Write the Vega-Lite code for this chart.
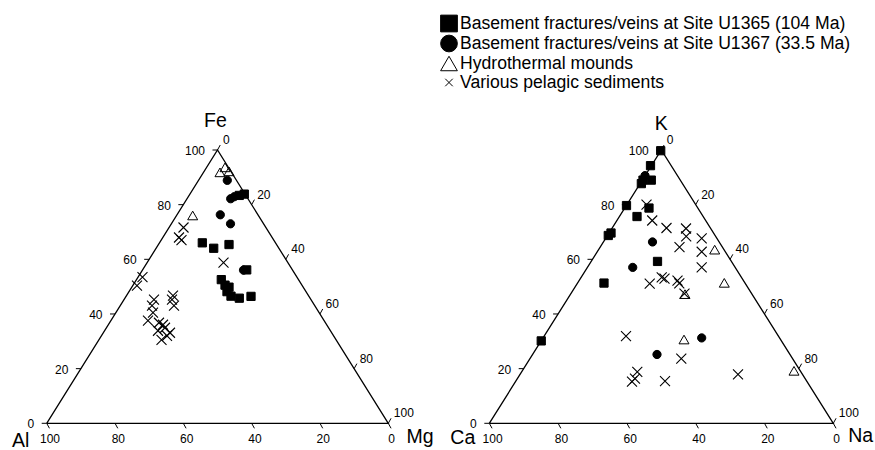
{
  "$schema": "https://vega.github.io/schema/vega-lite/v6.json",
  "width": 875,
  "height": 450,
  "padding": 0,
  "autosize": {"type": "none"},
  "background": "white",
  "config": {"view": {"stroke": null}, "font": "Liberation Sans",
    "legend": {"title": null, "orient": "none", "legendX": 440, "legendY": 14.5, "padding": 0, "labelFontSize": 17.6, "labelFont": "Liberation Sans", "labelColor": "black", "symbolSize": 280, "symbolStrokeColor": "black", "symbolStrokeWidth": 1, "labelOffset": 2, "rowPadding": -4.5, "labelLimit": 0}},
  "datasets": {
    "frame": [{"i": 0, "x": 0, "y": 0}, {"i": 1, "x": 100, "y": 0}, {"i": 2, "x": 50, "y": 100}, {"i": 3, "x": 0, "y": 0}],
    "tl": [{"x": 0, "y": 0, "t": "0"}, {"x": 10, "y": 20, "t": "20"}, {"x": 20, "y": 40, "t": "40"}, {"x": 30, "y": 60, "t": "60"}, {"x": 40, "y": 80, "t": "80"}, {"x": 50, "y": 100, "t": "100"}],
    "tb": [{"x": 100, "y": 0, "t": "0"}, {"x": 80, "y": 0, "t": "20"}, {"x": 60, "y": 0, "t": "40"}, {"x": 40, "y": 0, "t": "60"}, {"x": 20, "y": 0, "t": "80"}, {"x": 0, "y": 0, "t": "100"}],
    "tr": [{"x": 50, "y": 100, "t": "0"}, {"x": 60, "y": 80, "t": "20"}, {"x": 70, "y": 60, "t": "40"}, {"x": 80, "y": 40, "t": "60"}, {"x": 90, "y": 20, "t": "80"}, {"x": 100, "y": 0, "t": "100"}],
    "pl": [
      {"g": "Various pelagic sediments", "x": 51.76, "y": 58.8},
      {"g": "Various pelagic sediments", "x": 40.05, "y": 71.64},
      {"g": "Various pelagic sediments", "x": 38.73, "y": 67.98},
      {"g": "Various pelagic sediments", "x": 39.46, "y": 67.06},
      {"g": "Various pelagic sediments", "x": 28.04, "y": 53.49},
      {"g": "Various pelagic sediments", "x": 26.43, "y": 50.37},
      {"g": "Various pelagic sediments", "x": 31.41, "y": 45.23},
      {"g": "Various pelagic sediments", "x": 30.83, "y": 43.03},
      {"g": "Various pelagic sediments", "x": 36.97, "y": 46.7},
      {"g": "Various pelagic sediments", "x": 36.68, "y": 45.23},
      {"g": "Various pelagic sediments", "x": 37.27, "y": 43.03},
      {"g": "Various pelagic sediments", "x": 29.65, "y": 37.53},
      {"g": "Various pelagic sediments", "x": 31.12, "y": 40.46},
      {"g": "Various pelagic sediments", "x": 32.87, "y": 36.79},
      {"g": "Various pelagic sediments", "x": 34.05, "y": 36.06},
      {"g": "Various pelagic sediments", "x": 34.63, "y": 34.96},
      {"g": "Various pelagic sediments", "x": 33.61, "y": 30.56},
      {"g": "Various pelagic sediments", "x": 36.09, "y": 33.13},
      {"g": "Various pelagic sediments", "x": 35.22, "y": 32.03},
      {"g": "Various pelagic sediments", "x": 32.58, "y": 33.86},
      {"g": "Hydrothermal mounds", "x": 50.73, "y": 91.82},
      {"g": "Hydrothermal mounds", "x": 52.2, "y": 93.65},
      {"g": "Hydrothermal mounds", "x": 53.37, "y": 92.19},
      {"g": "Hydrothermal mounds", "x": 42.74, "y": 76.05},
      {"g": "Basement fractures/veins at Site U1365 (104 Ma)", "x": 56.38, "y": 83.38},
      {"g": "Basement fractures/veins at Site U1365 (104 Ma)", "x": 57.85, "y": 83.86},
      {"g": "Basement fractures/veins at Site U1365 (104 Ma)", "x": 45.55, "y": 66.03},
      {"g": "Basement fractures/veins at Site U1365 (104 Ma)", "x": 48.89, "y": 64.05},
      {"g": "Basement fractures/veins at Site U1365 (104 Ma)", "x": 53.37, "y": 65.41},
      {"g": "Basement fractures/veins at Site U1365 (104 Ma)", "x": 58.55, "y": 56.13},
      {"g": "Basement fractures/veins at Site U1365 (104 Ma)", "x": 51.11, "y": 52.57},
      {"g": "Basement fractures/veins at Site U1365 (104 Ma)", "x": 52.2, "y": 50.55},
      {"g": "Basement fractures/veins at Site U1365 (104 Ma)", "x": 53.37, "y": 49.82},
      {"g": "Basement fractures/veins at Site U1365 (104 Ma)", "x": 52.78, "y": 48.17},
      {"g": "Basement fractures/veins at Site U1365 (104 Ma)", "x": 53.95, "y": 46.52},
      {"g": "Basement fractures/veins at Site U1365 (104 Ma)", "x": 56.38, "y": 45.78},
      {"g": "Basement fractures/veins at Site U1365 (104 Ma)", "x": 59.81, "y": 46.44},
      {"g": "Basement fractures/veins at Site U1367 (33.5 Ma)", "x": 52.87, "y": 88.89},
      {"g": "Basement fractures/veins at Site U1367 (33.5 Ma)", "x": 53.86, "y": 82.17},
      {"g": "Basement fractures/veins at Site U1367 (33.5 Ma)", "x": 54.92, "y": 82.91},
      {"g": "Basement fractures/veins at Site U1367 (33.5 Ma)", "x": 50.82, "y": 76.3},
      {"g": "Basement fractures/veins at Site U1367 (33.5 Ma)", "x": 53.81, "y": 73.0},
      {"g": "Basement fractures/veins at Site U1367 (33.5 Ma)", "x": 57.61, "y": 56.05}
    ],
    "pr": [
      {"g": "Various pelagic sediments", "x": 45.7, "y": 80.04},
      {"g": "Various pelagic sediments", "x": 47.36, "y": 74.2},
      {"g": "Various pelagic sediments", "x": 51.51, "y": 71.46},
      {"g": "Various pelagic sediments", "x": 57.18, "y": 71.28},
      {"g": "Various pelagic sediments", "x": 57.24, "y": 68.36},
      {"g": "Various pelagic sediments", "x": 55.29, "y": 64.45},
      {"g": "Various pelagic sediments", "x": 61.74, "y": 67.7},
      {"g": "Various pelagic sediments", "x": 61.74, "y": 62.77},
      {"g": "Various pelagic sediments", "x": 61.74, "y": 57.04},
      {"g": "Various pelagic sediments", "x": 46.63, "y": 51.09},
      {"g": "Various pelagic sediments", "x": 50.12, "y": 53.39},
      {"g": "Various pelagic sediments", "x": 50.93, "y": 52.92},
      {"g": "Various pelagic sediments", "x": 54.71, "y": 52.19},
      {"g": "Various pelagic sediments", "x": 55.23, "y": 51.2},
      {"g": "Various pelagic sediments", "x": 56.74, "y": 47.44},
      {"g": "Various pelagic sediments", "x": 39.74, "y": 31.86},
      {"g": "Various pelagic sediments", "x": 55.81, "y": 23.65},
      {"g": "Various pelagic sediments", "x": 43.02, "y": 18.83},
      {"g": "Various pelagic sediments", "x": 42.35, "y": 16.35},
      {"g": "Various pelagic sediments", "x": 41.48, "y": 15.26},
      {"g": "Various pelagic sediments", "x": 51.08, "y": 15.44},
      {"g": "Various pelagic sediments", "x": 72.3, "y": 17.88},
      {"g": "Hydrothermal mounds", "x": 65.52, "y": 63.54},
      {"g": "Hydrothermal mounds", "x": 68.31, "y": 51.39},
      {"g": "Hydrothermal mounds", "x": 56.89, "y": 47.26},
      {"g": "Hydrothermal mounds", "x": 56.6, "y": 30.66},
      {"g": "Hydrothermal mounds", "x": 88.58, "y": 19.2},
      {"g": "Basement fractures/veins at Site U1365 (104 Ma)", "x": 49.83, "y": 99.74},
      {"g": "Basement fractures/veins at Site U1365 (104 Ma)", "x": 46.86, "y": 94.27},
      {"g": "Basement fractures/veins at Site U1365 (104 Ma)", "x": 47.09, "y": 88.98},
      {"g": "Basement fractures/veins at Site U1365 (104 Ma)", "x": 44.68, "y": 88.98},
      {"g": "Basement fractures/veins at Site U1365 (104 Ma)", "x": 44.2, "y": 87.7},
      {"g": "Basement fractures/veins at Site U1365 (104 Ma)", "x": 39.88, "y": 79.67},
      {"g": "Basement fractures/veins at Site U1365 (104 Ma)", "x": 46.42, "y": 78.76},
      {"g": "Basement fractures/veins at Site U1365 (104 Ma)", "x": 42.94, "y": 75.66},
      {"g": "Basement fractures/veins at Site U1365 (104 Ma)", "x": 34.59, "y": 68.72},
      {"g": "Basement fractures/veins at Site U1365 (104 Ma)", "x": 35.38, "y": 69.63},
      {"g": "Basement fractures/veins at Site U1365 (104 Ma)", "x": 48.9, "y": 59.23},
      {"g": "Basement fractures/veins at Site U1365 (104 Ma)", "x": 33.34, "y": 51.31},
      {"g": "Basement fractures/veins at Site U1365 (104 Ma)", "x": 15.1, "y": 30.15},
      {"g": "Basement fractures/veins at Site U1367 (33.5 Ma)", "x": 45.26, "y": 90.62},
      {"g": "Basement fractures/veins at Site U1367 (33.5 Ma)", "x": 47.44, "y": 66.35},
      {"g": "Basement fractures/veins at Site U1367 (33.5 Ma)", "x": 41.69, "y": 57.04},
      {"g": "Basement fractures/veins at Site U1367 (33.5 Ma)", "x": 48.75, "y": 25.18},
      {"g": "Basement fractures/veins at Site U1367 (33.5 Ma)", "x": 61.74, "y": 31.24}
    ]
  },
  "encoding": {
    "y": {"field": "y", "type": "quantitative", "scale": {"domain": [-9.769, 154.885], "nice": false, "zero": false}, "axis": null}
  },
  "resolve": {"scale": {"x": "independent"}},
  "layer": [
    {
      "encoding": {"x": {"field": "x", "type": "quantitative", "scale": {"domain": [-13.671, 242.477], "nice": false, "zero": false}, "axis": null}},
      "layer": [
        {"data": {"name": "frame"}, "mark": {"type": "line", "color": "black", "strokeWidth": 1.3}, "encoding": {"order": {"field": "i", "type": "quantitative"}}},
        {"data": {"name": "tl"}, "mark": {"type": "point", "shape": "M0,0L-1,0", "size": 100, "color": "black", "filled": false, "strokeWidth": 1, "opacity": 1}},
        {"data": {"name": "tb"}, "mark": {"type": "point", "shape": "M0,0L0.55,1", "size": 100, "color": "black", "filled": false, "strokeWidth": 1, "opacity": 1}},
        {"data": {"name": "tr"}, "mark": {"type": "point", "shape": "M0,0L0.55,-1", "size": 100, "color": "black", "filled": false, "strokeWidth": 1, "opacity": 1}},
        {"data": {"name": "tl"}, "mark": {"type": "text", "align": "right", "baseline": "middle", "dx": -12.5, "dy": 1, "fontSize": 12, "color": "black"}, "encoding": {"text": {"field": "t"}}},
        {"data": {"name": "tb"}, "mark": {"type": "text", "align": "center", "baseline": "middle", "dx": 3.3, "dy": 15.7, "fontSize": 12, "color": "black"}, "encoding": {"text": {"field": "t"}}},
        {"data": {"name": "tr"}, "mark": {"type": "text", "align": "left", "baseline": "middle", "dx": 5.5, "dy": -10, "fontSize": 12, "color": "black"}, "encoding": {"text": {"field": "t"}}},
        {"data": {"values": [{"x": 50, "y": 100, "t": "Fe"}]}, "mark": {"type": "text", "align": "center", "baseline": "middle", "dx": -2, "dy": -29, "fontSize": 19.5, "color": "black"}, "encoding": {"text": {"field": "t"}}},
        {"data": {"values": [{"x": 0, "y": 0, "t": "Al"}]}, "mark": {"type": "text", "align": "center", "baseline": "middle", "dx": -26, "dy": 17.5, "fontSize": 19.5, "color": "black"}, "encoding": {"text": {"field": "t"}}},
        {"data": {"values": [{"x": 100, "y": 0, "t": "Mg"}]}, "mark": {"type": "text", "align": "center", "baseline": "middle", "dx": 31.7, "dy": 14, "fontSize": 19.5, "color": "black"}, "encoding": {"text": {"field": "t"}}},
        {
          "data": {"name": "pl"},
          "transform": [{"filter": "datum.g !== 'Various pelagic sediments' && datum.g !== 'Hydrothermal mounds'"}],
          "mark": {"type": "point", "strokeWidth": 1, "opacity": 1, "size": 68},
          "encoding": {
            "shape": {"field": "g", "type": "nominal", "scale": {"domain": ["Basement fractures/veins at Site U1365 (104 Ma)", "Basement fractures/veins at Site U1367 (33.5 Ma)", "Hydrothermal mounds", "Various pelagic sediments"], "range": ["square", "circle", "triangle-up", "M-0.45,-0.45L0.45,0.45M-0.45,0.45L0.45,-0.45"]}},
            "fill": {"field": "g", "type": "nominal", "scale": {"domain": ["Basement fractures/veins at Site U1365 (104 Ma)", "Basement fractures/veins at Site U1367 (33.5 Ma)", "Hydrothermal mounds", "Various pelagic sediments"], "range": ["black", "black", "transparent", "transparent"]}},
            "stroke": {"field": "g", "type": "nominal", "scale": {"domain": ["Basement fractures/veins at Site U1365 (104 Ma)", "Basement fractures/veins at Site U1367 (33.5 Ma)", "Hydrothermal mounds", "Various pelagic sediments"], "range": ["black", "black", "black", "black"]}}
          }
        },
        {
          "data": {"name": "pl"},
          "transform": [{"filter": "datum.g === 'Hydrothermal mounds'"}],
          "mark": {"type": "point", "strokeWidth": 1, "opacity": 1, "size": 100},
          "encoding": {
            "shape": {"field": "g", "type": "nominal"},
            "fill": {"field": "g", "type": "nominal"},
            "stroke": {"field": "g", "type": "nominal"}
          }
        },
        {
          "data": {"name": "pl"},
          "transform": [{"filter": "datum.g === 'Various pelagic sediments'"}],
          "mark": {"type": "point", "strokeWidth": 1.1, "opacity": 1, "size": 494},
          "encoding": {
            "shape": {"field": "g", "type": "nominal"},
            "fill": {"field": "g", "type": "nominal"},
            "stroke": {"field": "g", "type": "nominal"}
          }
        }
      ]
    },
    {
      "encoding": {"x": {"field": "x", "type": "quantitative", "scale": {"domain": [-142.238, 112.122], "nice": false, "zero": false}, "axis": null}},
      "layer": [
        {"data": {"name": "frame"}, "mark": {"type": "line", "color": "black", "strokeWidth": 1.3}, "encoding": {"order": {"field": "i", "type": "quantitative"}}},
        {"data": {"name": "tl"}, "mark": {"type": "point", "shape": "M0,0L-1,0", "size": 100, "color": "black", "filled": false, "strokeWidth": 1, "opacity": 1}},
        {"data": {"name": "tb"}, "mark": {"type": "point", "shape": "M0,0L0.55,1", "size": 100, "color": "black", "filled": false, "strokeWidth": 1, "opacity": 1}},
        {"data": {"name": "tr"}, "mark": {"type": "point", "shape": "M0,0L0.55,-1", "size": 100, "color": "black", "filled": false, "strokeWidth": 1, "opacity": 1}},
        {"data": {"name": "tl"}, "mark": {"type": "text", "align": "right", "baseline": "middle", "dx": -12.5, "dy": 1, "fontSize": 12, "color": "black"}, "encoding": {"text": {"field": "t"}}},
        {"data": {"name": "tb"}, "mark": {"type": "text", "align": "center", "baseline": "middle", "dx": 3.3, "dy": 15.7, "fontSize": 12, "color": "black"}, "encoding": {"text": {"field": "t"}}},
        {"data": {"name": "tr"}, "mark": {"type": "text", "align": "left", "baseline": "middle", "dx": 5.5, "dy": -10, "fontSize": 12, "color": "black"}, "encoding": {"text": {"field": "t"}}},
        {"data": {"values": [{"x": 50, "y": 100, "t": "K"}]}, "mark": {"type": "text", "align": "center", "baseline": "middle", "dx": 0, "dy": -26, "fontSize": 19.5, "color": "black"}, "encoding": {"text": {"field": "t"}}},
        {"data": {"values": [{"x": 0, "y": 0, "t": "Ca"}]}, "mark": {"type": "text", "align": "center", "baseline": "middle", "dx": -26.5, "dy": 14.5, "fontSize": 19.5, "color": "black"}, "encoding": {"text": {"field": "t"}}},
        {"data": {"values": [{"x": 100, "y": 0, "t": "Na"}]}, "mark": {"type": "text", "align": "center", "baseline": "middle", "dx": 27.4, "dy": 13, "fontSize": 19.5, "color": "black"}, "encoding": {"text": {"field": "t"}}},
        {
          "data": {"name": "pr"},
          "transform": [{"filter": "datum.g !== 'Various pelagic sediments' && datum.g !== 'Hydrothermal mounds'"}],
          "mark": {"type": "point", "strokeWidth": 1, "opacity": 1, "size": 68},
          "encoding": {
            "shape": {"field": "g", "type": "nominal"},
            "fill": {"field": "g", "type": "nominal"},
            "stroke": {"field": "g", "type": "nominal"}
          }
        },
        {
          "data": {"name": "pr"},
          "transform": [{"filter": "datum.g === 'Hydrothermal mounds'"}],
          "mark": {"type": "point", "strokeWidth": 1, "opacity": 1, "size": 100},
          "encoding": {
            "shape": {"field": "g", "type": "nominal"},
            "fill": {"field": "g", "type": "nominal"},
            "stroke": {"field": "g", "type": "nominal"}
          }
        },
        {
          "data": {"name": "pr"},
          "transform": [{"filter": "datum.g === 'Various pelagic sediments'"}],
          "mark": {"type": "point", "strokeWidth": 1.1, "opacity": 1, "size": 494},
          "encoding": {
            "shape": {"field": "g", "type": "nominal"},
            "fill": {"field": "g", "type": "nominal"},
            "stroke": {"field": "g", "type": "nominal"}
          }
        }
      ]
    }
  ]
}
